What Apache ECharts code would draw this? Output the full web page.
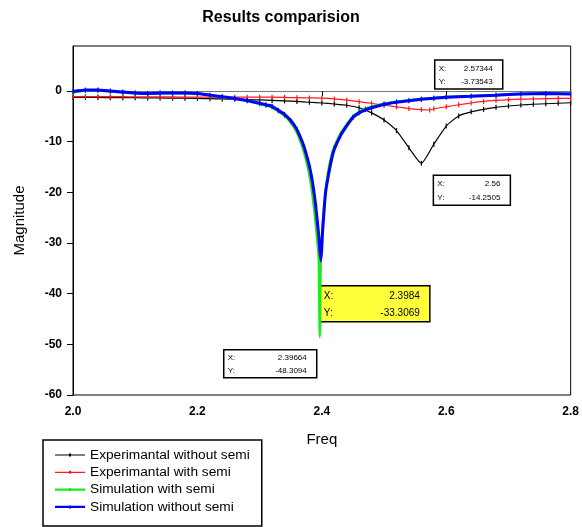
<!DOCTYPE html>
<html>
<head>
<meta charset="utf-8">
<title>Results comparision</title>
<script src="https://cdn.jsdelivr.net/npm/echarts@6/dist/echarts.min.js"></script>
<style>
  html, body { margin: 0; padding: 0; background: #fff; }
  #chart { width: 582px; height: 527px; }
</style>
</head>
<body>
<div id="chart"></div>
<script>
// axis ticks
const xTicks = [2.0, 2.2, 2.4, 2.6, 2.8];
const yTicks = [-60, -50, -40, -30, -20, -10, 0];

// measured curves (step 0.02)
const expFreq = [2.00, 2.02, 2.04, 2.06, 2.08, 2.10, 2.12, 2.14, 2.16, 2.18, 2.20, 2.22, 2.24, 2.26, 2.28, 2.30,
  2.32, 2.34, 2.36, 2.38, 2.40, 2.42, 2.44, 2.46, 2.48, 2.50, 2.52, 2.54, 2.56, 2.58, 2.60, 2.62, 2.64,
  2.66, 2.68, 2.70, 2.72, 2.74, 2.76, 2.78, 2.80];
const expWithout = [-1.25, -1.25, -1.25, -1.3, -1.3, -1.3, -1.35, -1.35, -1.4, -1.4, -1.45, -1.5, -1.55, -1.6, -1.7, -1.75,
  -1.85, -1.95, -2.05, -2.2, -2.35, -2.55, -2.8, -3.3, -4.3, -5.7, -7.8, -11.2, -14.25, -10.5, -6.9, -4.9, -4.1,
  -3.6, -3.2, -2.95, -2.75, -2.6, -2.5, -2.4, -2.3];

const expWithFreq = [2.00, 2.02, 2.04, 2.06, 2.08, 2.10, 2.12, 2.14, 2.16, 2.18, 2.20, 2.22, 2.24, 2.26, 2.28, 2.30,
  2.32, 2.34, 2.36, 2.38, 2.40, 2.42, 2.44, 2.46, 2.48, 2.50, 2.52, 2.54, 2.56, 2.57344, 2.58, 2.60, 2.62, 2.64,
  2.66, 2.68, 2.70, 2.72, 2.74, 2.76, 2.78, 2.80];
const expWith = [-1.1, -1.1, -1.1, -1.1, -1.1, -1.15, -1.15, -1.15, -1.15, -1.2, -1.2, -1.2, -1.2, -1.2, -1.2, -1.2,
  -1.2, -1.25, -1.3, -1.35, -1.4, -1.55, -1.8, -2.1, -2.4, -2.8, -3.1, -3.45, -3.65, -3.735, -3.5, -3.1, -2.7, -2.35,
  -2.05, -1.85, -1.7, -1.6, -1.55, -1.5, -1.45, -1.45];

// simulated curves (denser around the resonance)
const simWithFreq = [2.00, 2.02, 2.04, 2.06, 2.08, 2.10, 2.12, 2.14, 2.16, 2.18, 2.20, 2.22, 2.24, 2.26, 2.28, 2.30,
  2.31, 2.32, 2.33, 2.34, 2.35, 2.36, 2.37, 2.375, 2.38, 2.385, 2.39, 2.395, 2.39664, 2.3985, 2.405, 2.41,
  2.415, 2.42, 2.43, 2.44, 2.45, 2.46, 2.47, 2.48, 2.50, 2.52, 2.54, 2.56, 2.58, 2.60, 2.64, 2.68, 2.72, 2.76, 2.80];
const simWith = [-0.3, 0.1, 0.1, -0.1, -0.3, -0.45, -0.5, -0.45, -0.45, -0.45, -0.55, -0.85, -1.15, -1.5, -1.95, -2.5,
  -2.85, -3.2, -4.0, -4.9, -6.2, -8.2, -11.5, -13.8, -16.5, -20.5, -26, -33, -48.3094, -32, -21, -16,
  -13, -11, -8.4, -6.6, -5.0, -4.1, -3.5, -3.1, -2.5, -2.1, -1.8, -1.55, -1.35, -1.15, -0.95, -0.75, -0.55, -0.45, -0.5];

const simWithoutFreq = [2.00, 2.02, 2.04, 2.06, 2.08, 2.10, 2.12, 2.14, 2.16, 2.18, 2.20, 2.22, 2.24, 2.26, 2.28, 2.30,
  2.31, 2.32, 2.33, 2.34, 2.35, 2.36, 2.37, 2.375, 2.38, 2.385, 2.39, 2.395, 2.3984, 2.4016, 2.406, 2.41,
  2.416, 2.42, 2.43, 2.438, 2.45, 2.46, 2.47, 2.48, 2.50, 2.52, 2.54, 2.56, 2.58, 2.60, 2.64, 2.68, 2.72, 2.76, 2.80];
const simWithout = [-0.1, 0.2, 0.2, 0.0, -0.2, -0.4, -0.5, -0.4, -0.4, -0.4, -0.5, -0.8, -1.1, -1.45, -1.85, -2.4,
  -2.7, -3.0, -3.8, -4.6, -5.8, -7.6, -10.5, -12.5, -14.8, -18, -22.5, -28.5, -33.3069, -27, -20, -17,
  -13.3, -11.5, -8.8, -7.2, -5.2, -4.3, -3.7, -3.3, -2.6, -2.2, -1.9, -1.6, -1.4, -1.2, -1.0, -0.8, -0.6, -0.5, -0.6];

// data tips
const tipX = [2.57344, 2.56, 2.3984, 2.39664];
const tipY = [-3.73543, -14.2505, -33.3069, -48.3094];

const seriesNames = ['Experimantal without semi', 'Experimantal with semi', 'Simulation with semi', 'Simulation without semi'];

function pairs(xs, ys) {
  return xs.map((x, i) => [x, ys[i]]);
}

const chart = echarts.init(document.getElementById('chart'));
const font = 'Arial, "Liberation Sans", sans-serif';

const tickMark = {
  symbol: 'rect',
  symbolSize: [1.2, 5],
  showSymbol: true,
};

// legend icons: line with a small dot in the middle (thin for measured, thick for simulated)
const thinIcon = 'path://M0,4.4H30V5.6H0ZM14,3.5H16V6.5H14Z';
const thickIcon = 'path://M0,3.8H30V6.2H0ZM14,3.5H16V6.5H14Z';
const legendIcons = [thinIcon, thinIcon, thickIcon, thickIcon];

const option = {
  animation: false,
  backgroundColor: '#fff',
  title: {
    text: 'Results comparision',
    left: 276,
    top: 5,
    textAlign: 'center',
    textStyle: { fontFamily: font, fontSize: 16, fontWeight: 'bold', color: '#000' },
  },
  grid: {
    left: 73,
    right: 9,
    top: 46,
    bottom: 132,
    show: true,
    borderColor: '#000',
    borderWidth: 1,
    backgroundColor: '#fff',
  },
  legend: {
    orient: 'vertical',
    left: 43,
    top: 440,
    data: seriesNames.map((n, i) => ({ name: n, icon: legendIcons[i] })),
    backgroundColor: '#fff',
    borderColor: '#000',
    borderWidth: 1.5,
    borderRadius: 0,
    padding: [8, 12, 12, 12],
    itemGap: 3.3,
    itemWidth: 30,
    itemHeight: 3,
    textStyle: { fontFamily: font, fontSize: 13.7, color: '#000', lineHeight: 14 },
  },
  xAxis: {
    type: 'value',
    min: 2.0,
    max: 2.8,
    interval: 0.2,
    name: 'Freq',
    nameLocation: 'middle',
    nameGap: 37,
    nameTextStyle: { fontFamily: font, fontSize: 15, color: '#000' },
    axisLine: { lineStyle: { color: '#777', width: 1 } },
    axisTick: { length: 5, lineStyle: { color: '#000' }, customValues: xTicks },
    axisLabel: {
      customValues: xTicks,
      margin: 11,
      fontFamily: font,
      fontSize: 12,
      fontWeight: 'bold',
      color: '#000',
      formatter: (v) => v.toFixed(1),
    },
    splitLine: { show: false },
  },
  yAxis: {
    type: 'value',
    min: -60,
    max: 8.9,
    name: 'Magnitude',
    nameLocation: 'middle',
    nameGap: 46,
    nameTextStyle: { fontFamily: font, fontSize: 15, color: '#000' },
    axisLine: { lineStyle: { color: '#000', width: 1 } },
    axisTick: { length: 6, lineStyle: { color: '#000' }, customValues: yTicks },
    axisLabel: {
      customValues: yTicks,
      margin: 11,
      fontFamily: font,
      fontSize: 12,
      fontWeight: 'bold',
      color: '#000',
    },
    splitLine: { show: false },
  },
  series: [
    {
      name: seriesNames[0],
      type: 'line',
      data: pairs(expFreq, expWithout),
      smooth: 0.2,
      ...tickMark,
      z: 3,
      itemStyle: { color: '#000' },
      lineStyle: { color: '#000', width: 1.2 },
    },
    {
      name: seriesNames[1],
      type: 'line',
      data: pairs(expWithFreq, expWith),
      smooth: 0.2,
      ...tickMark,
      z: 4,
      itemStyle: { color: '#ff1a1a' },
      lineStyle: { color: '#ff1a1a', width: 1.2 },
    },
    {
      name: seriesNames[2],
      type: 'line',
      data: pairs(simWithFreq, simWith),
      smooth: 0.15,
      ...tickMark,
      z: 5,
      itemStyle: { color: '#1ee81e' },
      lineStyle: { color: '#1ee81e', width: 2.5 },
    },
    {
      name: seriesNames[3],
      type: 'line',
      data: pairs(simWithoutFreq, simWithout),
      smooth: 0.15,
      ...tickMark,
      z: 6,
      itemStyle: { color: '#0000ff' },
      lineStyle: { color: '#0000ff', width: 3 },
    },
  ],
};

chart.setOption(option);

// data tip boxes, placed next to their data point
const tipLayout = [
  { dx: 5, dy: -50, w: 68, h: 29, size: 8, fill: '#fff' },
  { dx: 12, dy: 12, w: 77, h: 30, size: 8, fill: '#fff' },
  { dx: -1, dy: 26, w: 110, h: 36, size: 10, fill: '#ffff3c' },
  { dx: -96, dy: 14, w: 93, h: 28, size: 8, fill: '#fff' },
];

const graphics = [];
tipX.forEach((x, i) => {
  const p = chart.convertToPixel({ gridIndex: 0 }, [x, tipY[i]]);
  const l = tipLayout[i];
  const bx = p[0] + l.dx;
  const by = p[1] + l.dy;
  const style = { fontFamily: font, fontSize: l.size, fill: '#000' };
  graphics.push({
    type: 'group',
    x: bx,
    y: by,
    z: 100,
    children: [
      { type: 'rect', shape: { x: 0, y: 0, width: l.w, height: l.h },
        style: { fill: l.fill, stroke: '#000', lineWidth: 1.5 } },
      { type: 'text', x: 4, y: l.h * 0.3,
        style: { ...style, text: 'X:', verticalAlign: 'middle' } },
      { type: 'text', x: 4, y: l.h * 0.75,
        style: { ...style, text: 'Y:', verticalAlign: 'middle' } },
      { type: 'text', x: l.w - 10, y: l.h * 0.3,
        style: { ...style, text: String(x), align: 'right', verticalAlign: 'middle' } },
      { type: 'text', x: l.w - 10, y: l.h * 0.75,
        style: { ...style, text: String(tipY[i]), align: 'right', verticalAlign: 'middle' } },
    ],
  });
});
chart.setOption({ graphic: graphics });
</script>
</body>
</html>
